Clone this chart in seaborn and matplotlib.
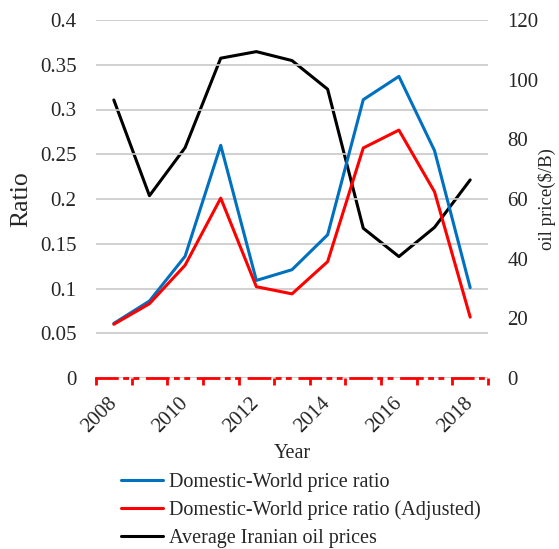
import matplotlib
matplotlib.use("Agg")
import matplotlib.pyplot as plt
import seaborn as sns
import pandas as pd
import numpy as np
from matplotlib.lines import Line2D

years = [2008, 2009, 2010, 2011, 2012, 2013, 2014, 2015, 2016, 2017, 2018]
ratio = [0.061, 0.086, 0.136, 0.260, 0.109, 0.121, 0.160, 0.311, 0.337, 0.254, 0.101]
ratio_adj = [0.060, 0.083, 0.126, 0.201, 0.102, 0.094, 0.130, 0.257, 0.277, 0.208, 0.068]
oil_price = [93.2, 61.1, 77.2, 107.2, 109.4, 106.4, 96.8, 50.2, 40.7, 50.5, 66.4]

left_ticks = [0, 0.05, 0.1, 0.15, 0.2, 0.25, 0.3, 0.35, 0.4]
left_labels = ["0", "0.05", "0.1", "0.15", "0.2", "0.25", "0.3", "0.35", "0.4"]
right_ticks = [0, 20, 40, 60, 80, 100, 120]
year_ticks = [2008, 2010, 2012, 2014, 2016, 2018]

labels = ["Domestic-World price ratio",
          "Domestic-World price ratio (Adjusted)",
          "Average Iranian oil prices"]
colors = ["#0070C0", "#FF0000", "#000000"]

sns.set_theme(style="white")
plt.rcParams['font.family'] = ['Liberation Serif', 'DejaVu Serif']

df = pd.DataFrame({"year": years, "ratio": ratio, "ratio_adj": ratio_adj, "oil": oil_price})

fig = plt.figure(figsize=(5.59, 5.49), dpi=100)
ax = fig.add_axes([96/559, 1-378/549, (488-96)/559, (378-20)/549])
ax2 = ax.twinx()

ax.set_zorder(ax2.get_zorder() + 1)
ax.patch.set_visible(False)

ax2.set_ylim(0, 120)
ax.set_ylim(0, 0.4)
ax.set_yticks(left_ticks)
ax.set_yticklabels(left_labels)
ax.yaxis.grid(True, color="#c8c8c8", lw=1.2)
ax.xaxis.grid(False)
ax2.grid(False)

sns.lineplot(data=df, x="year", y="ratio", ax=ax, color=colors[0], lw=2.2, legend=False)
sns.lineplot(data=df, x="year", y="ratio_adj", ax=ax, color=colors[1], lw=2.2, legend=False)
sns.lineplot(data=df, x="year", y="oil", ax=ax2, color=colors[2], lw=2.2, legend=False)

ax.set_xlim(2007.5, 2018.5)
ax2.set_xlim(2007.5, 2018.5)
ax.set_xticks(year_ticks)
ax.set_xticklabels([str(y) for y in year_ticks], rotation=45, ha="right", va="center",
                   rotation_mode="anchor", fontsize=15)
ax.set_xticks(np.arange(2007.5, 2019, 1.0), minor=True)
ax.tick_params(axis="x", which="both", bottom=True)
ax.tick_params(axis="x", which="major", length=0, pad=16)
ax.tick_params(axis="x", which="minor", length=5, width=2, color="#FF0000", direction="out")
ax.tick_params(axis="y", length=0, pad=14, labelsize=15)

ax2.set_yticks(right_ticks)
ax2.set_yticklabels([str(t) for t in right_ticks])
ax2.tick_params(axis="y", length=0, pad=14, labelsize=15)

for a in (ax, ax2):
    for s in ("top", "left", "right", "bottom"):
        a.spines[s].set_visible(False)
ax.spines["bottom"].set_visible(True)
ax.spines["bottom"].set_color("#FF0000")
ax.spines["bottom"].set_linewidth(2.0)
ax.spines["bottom"].set_linestyle((0, (7.5, 2.6, 1.1, 2.6, 1.1, 3.4)))

ax.set_xlabel("Year", fontsize=14.5)
ax.set_ylabel("Ratio", fontsize=18.5)
ax2.set_ylabel("oil price($/B)", fontsize=13.5)
ax.xaxis.set_label_coords(0.5, -0.185)
ax.yaxis.set_label_coords(-0.163, 0.5)
ax2.yaxis.set_label_coords(1.128, 0.5)

handles = [Line2D([0], [0], color=c, lw=2.2) for c in colors]
fig.legend(handles, labels, loc="upper left", bbox_to_anchor=(121/559, 1-473/549),
           frameon=False, fontsize=14.5, handlelength=2.1, handletextpad=0.3,
           labelspacing=0.43, borderaxespad=0, borderpad=0)

fig.savefig("out.png", dpi=100)
